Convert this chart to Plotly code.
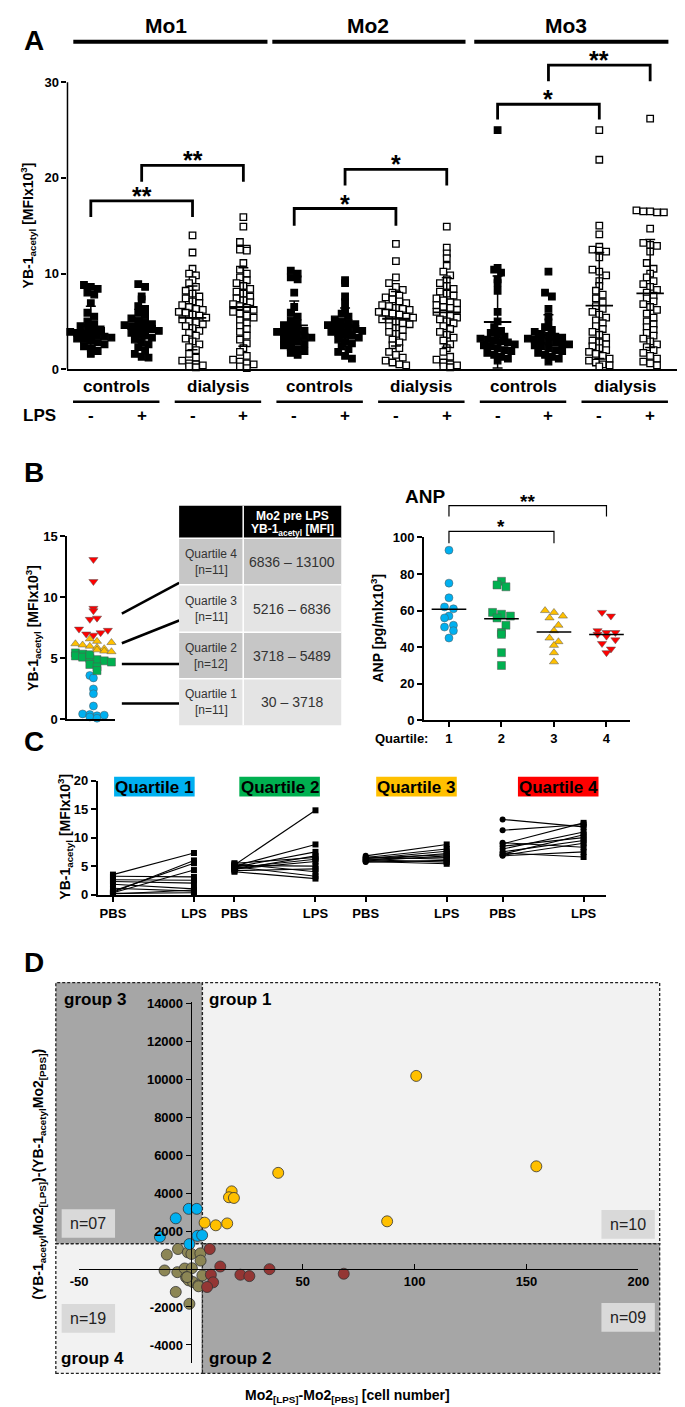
import plotly.graph_objects as go
import statistics as st

W, H = 685, 1407
FONT = "Liberation Sans, Arial, sans-serif"


def PX(x):
    return x / W


def PY(y):
    return 1 - y / H


# ---------------- Panel A data (YB-1acetyl, MFI x10^3) ----------------
m1_ctrl_pbs = [8.8, 8.6, 8.4, 8.0, 7.8, 6.9, 5.9, 5.5, 5.0, 4.7, 4.5, 4.3, 4.1, 4.0, 3.9, 3.8, 3.7, 3.6, 3.5, 3.4, 3.3, 3.2, 3.1, 3.0, 2.8, 2.6, 2.4, 2.2, 1.9, 1.6]
m1_ctrl_lps = [8.9, 8.6, 7.6, 7.3, 6.6, 6.3, 5.9, 5.6, 5.3, 5.1, 4.9, 4.7, 4.6, 4.5, 4.4, 4.3, 4.2, 4.0, 3.8, 3.6, 3.5, 3.3, 3.1, 2.9, 2.6, 2.3, 2.0, 1.6, 1.3, 1.2]
m1_dial_pbs = [14.0, 12.2, 10.5, 10.0, 9.8, 9.3, 9.0, 8.6, 8.2, 7.9, 7.6, 7.4, 7.1, 6.9, 6.7, 6.5, 6.3, 6.2, 6.0, 5.9, 5.7, 5.6, 5.4, 5.2, 5.0, 4.9, 4.7, 4.5, 4.3, 4.0, 3.8, 3.5, 3.2, 2.9, 2.6, 2.3, 2.0, 1.6, 1.2, 0.9, 0.6, 0.5, 0.4, 0.3, 0.2]
m1_dial_lps = [15.9, 14.9, 13.3, 12.6, 12.5, 12.4, 11.1, 10.4, 10.0, 9.6, 9.3, 9.0, 8.7, 8.4, 8.1, 7.9, 7.6, 7.4, 7.2, 7.0, 6.8, 6.6, 6.4, 6.2, 6.0, 5.8, 5.6, 5.4, 5.1, 4.8, 4.5, 4.2, 3.9, 3.5, 3.1, 2.7, 2.2, 1.8, 1.4, 1.0, 0.8, 0.6, 0.5, 0.3, 0.1]
m2_ctrl_pbs = [10.3, 10.0, 9.6, 9.4, 8.0, 6.5, 5.9, 5.5, 5.1, 4.8, 4.6, 4.4, 4.2, 4.0, 3.9, 3.8, 3.7, 3.5, 3.4, 3.3, 3.1, 3.0, 2.9, 2.7, 2.5, 2.3, 2.1, 1.9, 1.7, 1.5]
m2_ctrl_lps = [9.3, 9.0, 7.6, 7.0, 6.2, 5.8, 5.5, 5.2, 5.0, 4.8, 4.7, 4.6, 4.5, 4.4, 4.3, 4.2, 4.0, 3.9, 3.8, 3.6, 3.5, 3.3, 3.1, 2.9, 2.7, 2.4, 2.1, 1.8, 1.4, 1.1]
m2_dial_pbs = [13.1, 11.3, 9.6, 9.0, 8.6, 8.3, 8.0, 7.7, 7.5, 7.3, 7.1, 6.9, 6.7, 6.6, 6.4, 6.3, 6.2, 6.0, 5.9, 5.8, 5.7, 5.5, 5.4, 5.2, 5.1, 5.0, 4.8, 4.7, 4.5, 4.3, 4.1, 3.9, 3.7, 3.4, 3.1, 2.8, 2.5, 2.2, 1.8, 1.5, 1.2, 0.9, 0.7, 0.5, 0.4]
m2_dial_lps = [14.9, 12.7, 12.1, 11.6, 10.8, 10.2, 9.8, 9.4, 9.0, 8.7, 8.4, 8.1, 7.9, 7.7, 7.4, 7.2, 7.0, 6.9, 6.7, 6.5, 6.4, 6.2, 6.0, 5.8, 5.6, 5.4, 5.2, 5.0, 4.8, 4.5, 4.2, 3.9, 3.6, 3.3, 3.0, 2.6, 2.2, 1.8, 1.3, 1.0, 0.7, 0.5, 0.4, 0.3, 0.2]
m3_ctrl_pbs = [25.0, 10.6, 10.4, 10.1, 9.4, 9.0, 8.2, 6.0, 5.0, 4.4, 4.0, 3.8, 3.6, 3.4, 3.2, 3.1, 3.0, 2.9, 2.8, 2.6, 2.5, 2.4, 2.2, 2.0, 1.9, 1.7, 1.5, 1.3, 1.1, 0.9]
m3_ctrl_lps = [10.2, 8.0, 7.6, 6.3, 5.5, 4.9, 4.4, 4.1, 3.9, 3.7, 3.5, 3.4, 3.3, 3.2, 3.1, 3.0, 2.9, 2.8, 2.7, 2.6, 2.5, 2.4, 2.2, 2.0, 1.9, 1.7, 1.5, 1.3, 1.1, 0.8]
m3_dial_pbs = [25.0, 21.9, 15.0, 14.1, 12.8, 12.5, 12.4, 12.3, 11.7, 10.4, 10.2, 9.8, 9.2, 8.7, 8.2, 7.8, 7.4, 7.0, 6.6, 6.3, 6.0, 5.7, 5.4, 5.1, 4.8, 4.5, 4.2, 3.9, 3.6, 3.3, 3.0, 2.8, 2.6, 2.4, 2.2, 2.0, 1.8, 1.6, 1.4, 1.1, 0.9, 0.7, 0.5, 0.4, 0.3]
m3_dial_lps = [26.2, 16.6, 16.5, 16.5, 16.4, 16.4, 14.7, 13.2, 13.0, 12.9, 12.3, 11.1, 10.5, 10.0, 9.6, 9.2, 8.9, 8.6, 8.3, 8.0, 7.7, 7.4, 7.1, 6.8, 6.5, 6.2, 5.8, 5.4, 5.0, 4.7, 4.4, 4.1, 3.8, 3.5, 3.2, 2.9, 2.6, 2.3, 2.0, 1.7, 1.4, 1.1, 0.8, 0.6, 0.4]
A_groups = [m1_ctrl_pbs, m1_ctrl_lps, m1_dial_pbs, m1_dial_lps,
            m2_ctrl_pbs, m2_ctrl_lps, m2_dial_pbs, m2_dial_lps,
            m3_ctrl_pbs, m3_ctrl_lps, m3_dial_pbs, m3_dial_lps]
A_cohorts = ["controls", "dialysis", "controls", "dialysis", "controls", "dialysis"]
A_lps = ["-", "+"] * 6
A_monocytes = ["Mo1", "Mo2", "Mo3"]
# brackets: (group a, group b, top value, leg bottom value, stars)
A_sig = [(1, 3, 17.6, 15.9, "**"), (2, 4, 21.3, 19.6, "**"),
         (5, 7, 16.8, 15.0, "*"), (6, 8, 20.9, 19.2, "*"),
         (9, 11, 27.7, 26.1, "*"), (10, 12, 31.8, 30.1, "**")]

# ---------------- Panel B data ----------------
B_q1 = [3.6, 3.4, 2.5, 2.1, 1.1, 0.45, 0.4, 0.3, 0.2, 0.1, 0.35]
B_q2 = [5.45, 5.35, 5.2, 5.1, 5.0, 4.9, 4.8, 4.7, 4.5, 4.3, 4.0, 5.3]
B_q3 = [6.6, 6.4, 6.2, 6.1, 6.0, 5.9, 5.8, 5.7, 5.6, 5.55, 6.3]
B_q4 = [13.1, 11.3, 9.1, 8.9, 8.2, 7.4, 7.0, 6.9, 7.1, 7.3, 8.3]
table_quartiles = ["Quartile 4", "Quartile 3", "Quartile 2", "Quartile 1"]
table_n = ["[n=11]", "[n=11]", "[n=12]", "[n=11]"]
table_ranges = ["6836 \u2013 13100", "5216 \u2013 6836", "3718 \u2013 5489", "30 \u2013 3718"]

ANP_q1 = [93, 75, 67, 62, 61, 57, 56, 52, 51, 49, 45]
ANP_q2 = [76, 74, 73, 59, 58, 57, 56, 52, 48, 47, 37, 30]
ANP_q3 = [60, 59, 57, 56, 52, 49, 45, 43, 41, 37, 32]
ANP_q4 = [59, 57, 49, 48, 48, 47, 46, 44, 42, 39, 37]

# ---------------- Panel C data (paired PBS -> LPS) ----------------
C_q1_pbs = [3.5, 3.2, 2.6, 2.3, 1.8, 1.1, 0.6, 0.4, 0.3, 0.2, 0.1]
C_q1_lps = [7.3, 3.1, 2.5, 2.0, 1.0, 0.6, 5.5, 6.0, 4.3, 0.3, 0.8]
C_q2_pbs = [5.5, 5.4, 5.2, 5.1, 5.0, 4.9, 4.8, 4.7, 4.5, 4.4, 4.2, 4.0]
C_q2_lps = [6.5, 4.0, 14.8, 5.0, 8.8, 3.2, 7.5, 6.2, 5.8, 6.8, 4.5, 2.8]
C_q3_pbs = [6.8, 6.6, 6.5, 6.4, 6.3, 6.2, 6.1, 6.0, 5.9, 5.8, 5.7]
C_q3_lps = [8.8, 6.2, 8.0, 7.0, 7.6, 6.5, 5.7, 7.2, 6.8, 5.4, 6.0]
C_q4_pbs = [13.2, 11.3, 9.1, 8.9, 8.5, 8.0, 7.5, 7.3, 7.1, 6.9, 6.8]
C_q4_lps = [11.9, 12.3, 8.3, 12.6, 10.0, 11.0, 9.5, 6.6, 10.5, 9.0, 7.5]
C_colors = ["#00b0f0", "#00b050", "#ffc000", "#ff0000"]

# ---------------- Panel D data ----------------
D_g1_x = [100.7, 154.4, 39.0, 18.2, 17.0, 19.2, 87.7, 6.1, 11.1, 16.2]
D_g1_y = [10166, 5406, 5062, 4088, 3776, 3740, 2510, 2440, 2300, 2400]
D_g3_x = [-1.0, 2.6, -6.8, -13.9, 2.9, 5.0, -0.7]
D_g3_y = [3167, 3167, 2667, 1693, 1745, 1780, 1313]
D_g4_x = [-10.8, -5.8, -1.4, 0.2, 4.2, 4.3, -11.8, -6.1, -2.8, 0.4, -2.2, -1.0, 0.9, 3.3, 5.1, -6.8, -0.7, -1.7, 3.4]
D_g4_y = [755, 1052, 875, 792, 823, 443, -78, -167, 26, 42, -443, -599, -688, -859, -339, -1208, -1833, -427, -911]
D_g2_x = [8.4, 13.1, 35.1, 68.3, 22.1, 26.1, 8.9, 9.9, 7.2]
D_g2_y = [1052, 130, -10, -250, -302, -375, -302, -703, -948]
D_xticks = [-50, 50, 100, 150, 200]
D_yticks = [-4000, -2000, 2000, 4000, 6000, 8000, 10000, 12000, 14000]


def swarm(vals, center, bin_h, step):
    xs = [0.0] * len(vals)
    bins = {}
    for i, v in enumerate(vals):
        bins.setdefault(int(round(v / bin_h)), []).append(i)
    for idx in bins.values():
        n = len(idx)
        for j, i in enumerate(idx):
            xs[i] = center + (j - (n - 1) / 2) * step
    return xs


fig = go.Figure()
shapes = []
ann = []


def text(x, y, t, size=13, bold=True, color="black", xanchor="center", yanchor="middle",
         xref="paper", yref="paper", angle=0, yshift=0):
    if bold:
        t = "<b>" + t + "</b>"
    ann.append(dict(x=x, y=y, xref=xref, yref=yref, text=t, showarrow=False,
                    font=dict(family=FONT, size=size, color=color), xanchor=xanchor,
                    yanchor=yanchor, textangle=angle, yshift=yshift))


def pline(x0, y0, x1, y1, w=1.5, color="black", dash=None):
    shapes.append(dict(type="line", xref="paper", yref="paper", x0=PX(x0), y0=PY(y0),
                       x1=PX(x1), y1=PY(y1), line=dict(color=color, width=w, dash=dash)))


def prect(x0, y0, x1, y1, fill, lw=0, lc="black", dash=None, layer="below"):
    shapes.append(dict(type="rect", xref="paper", yref="paper", x0=PX(x0), y0=PY(y1),
                       x1=PX(x1), y1=PY(y0), fillcolor=fill, layer=layer,
                       line=dict(color=lc, width=lw, dash=dash)))


# ================= Panel A =================
for i, vals in enumerate(A_groups):
    xc = i + 1
    filled = (i % 4) < 2
    fig.add_trace(go.Scatter(
        x=swarm(vals, xc, 0.72, 0.135), y=vals, mode="markers", xaxis="x", yaxis="y",
        marker=dict(symbol="square", size=6.5, color="black" if filled else "white",
                    line=dict(color="black", width=1.3)),
        cliponaxis=False, showlegend=False, hoverinfo="skip"))
    m = st.mean(vals)
    sd = st.stdev(vals)
    fig.add_trace(go.Scatter(x=[xc - 0.27, xc + 0.27], y=[m, m], mode="lines", xaxis="x", yaxis="y",
                             line=dict(color="black", width=1.8), cliponaxis=False,
                             showlegend=False, hoverinfo="skip"))
    fig.add_trace(go.Scatter(x=[xc], y=[m], mode="markers", xaxis="x", yaxis="y",
                             marker=dict(size=1, color="rgba(0,0,0,0)"),
                             error_y=dict(type="data", array=[sd], color="black", thickness=1.5, width=5),
                             cliponaxis=False, showlegend=False, hoverinfo="skip"))

for a, b, top, leg, stars in A_sig:
    shapes.append(dict(type="path", xref="x", yref="y",
                       path=f"M {a},{leg} L {a},{top} L {b},{top} L {b},{leg}",
                       line=dict(color="black", width=2.8)))
    text((a + b) / 2, top, stars, size=25, xref="x", yref="y", yanchor="bottom", yshift=-11)

# y axis line 0..30
shapes.append(dict(type="line", xref="paper", yref="y", x0=PX(52), x1=PX(52), y0=0, y1=30,
                   line=dict(color="black", width=1.5)))
# top monocyte labels
for lbl, (x0, x1), cx in zip(A_monocytes, [(58, 258), (263, 462), (471, 671)], [153, 362, 565]):
    pline(x0, 27, x1, 27, w=4)
    text(PX(cx), PY(11), lbl, size=21)
# cohorts
for k, lbl in enumerate(A_cohorts):
    c = 2 * k + 1.5
    text(c, PY(375), lbl, size=17, xref="x")
    shapes.append(dict(type="line", xref="x", yref="paper", x0=c - 0.85, x1=c + 0.85,
                       y0=PY(391), y1=PY(391), line=dict(color="black", width=2.5)))
for k, s in enumerate(A_lps):
    text(k + 1, PY(405), s, size=17, xref="x")
text(PX(23), PY(405), "LPS", size=17)
text(PX(18), PY(26), "A", size=28)
text(PX(11), PY(213), "YB-1<sub>acetyl</sub> [MFIx10<sup>3</sup>]", size=14, angle=-90)

# ================= Panel B (left scatter) =================
B_sets = [(B_q1, "circle", "#00b0f0"), (B_q2, "square", "#00b050"),
          (B_q3, "triangle-up", "#ffc000"), (B_q4, "triangle-down", "#ff0000")]
allB = B_q1 + B_q2 + B_q3 + B_q4
allx = swarm(allB, 0, 0.55, 0.3)
pos = 0
for vals, sym, col in B_sets:
    n = len(vals)
    fig.add_trace(go.Scatter(x=allx[pos:pos + n], y=vals, mode="markers", xaxis="x2", yaxis="y2",
                             marker=dict(symbol=sym, size=8, color=col, line=dict(color="#555", width=0.5)),
                             cliponaxis=False, showlegend=False, hoverinfo="skip"))
    pos += n
text(PX(17), PY(462), "B", size=28)
text(PX(17), PY(620), "YB-1<sub>acetyl</sub> [MFIx10<sup>3</sup>]", size=14, angle=-90)
# connectors
for (x0, y0, x1, y1) in [(108, 605, 167, 574), (108, 635, 167, 612), (108, 656, 167, 656), (108, 696, 167, 696)]:
    pline(x0, y0, x1, y1, w=2.5)
# table
prect(167, 496, 334, 529, "black", layer="above")
pline(233, 496, 233, 529, w=1.5, color="white")
text(PX(283.5), PY(506), "Mo2 pre LPS", size=12, color="white")
text(PX(283.5), PY(521), "YB-1<sub>acetyl</sub> [MFI]", size=12, color="white")
rows = [(529, 576), (576, 624), (624, 671), (671, 718)]
fills = ["#c6c6c6", "#e4e4e4", "#c6c6c6", "#e4e4e4"]
for (y0, y1), f, q, nn, rg in zip(rows, fills, table_quartiles, table_n, table_ranges):
    prect(167, y0, 233, y1, f, layer="above")
    prect(233, y0, 334, y1, f, layer="above")
    pline(167, y0, 334, y0, w=1.5, color="white")
    pline(233, y0, 233, y1, w=1.5, color="white")
    yc = (y0 + y1) / 2
    text(PX(200), PY(yc - 8), q, size=12, bold=False, color="#333")
    text(PX(200), PY(yc + 8), nn, size=12, bold=False, color="#333")
    text(PX(283.5), PY(yc), rg, size=14, bold=False, color="#333")

# ================= Panel B (ANP) =================
ANP_sets = [(ANP_q1, "circle", "#00b0f0"), (ANP_q2, "square", "#00b050"),
            (ANP_q3, "triangle-up", "#ffc000"), (ANP_q4, "triangle-down", "#ff0000")]
for k, (vals, sym, col) in enumerate(ANP_sets):
    xc = k + 1
    fig.add_trace(go.Scatter(x=swarm(vals, xc, 4.5, 0.17), y=vals, mode="markers", xaxis="x3", yaxis="y3",
                             marker=dict(symbol=sym, size=8, color=col, line=dict(color="#555", width=0.5)),
                             cliponaxis=False, showlegend=False, hoverinfo="skip"))
    m = st.mean(vals)
    fig.add_trace(go.Scatter(x=[xc - 0.33, xc + 0.33], y=[m, m], mode="lines", xaxis="x3", yaxis="y3",
                             line=dict(color="black", width=1.5), showlegend=False, hoverinfo="skip"))
text(PX(420), PY(487), "ANP", size=19)
text(PX(371), PY(620), "ANP [pg/mlx10<sup>3</sup>]", size=14, angle=-90)
text(PX(425), PY(731), "Quartile:", size=13, xanchor="right")
for a, b, ytop, yleg, stars in [(1, 4, 496, 507, "**"), (1, 3, 522, 534, "*")]:
    shapes.append(dict(type="path", xref="x3", yref="paper",
                       path=f"M {a},{PY(yleg)} L {a},{PY(ytop)} L {b},{PY(ytop)} L {b},{PY(yleg)}",
                       line=dict(color="black", width=1.2)))
    text((a + b) / 2, PY(ytop), stars, size=19, xref="x3", yanchor="bottom", yshift=-8)

# ================= Panel C =================
C_pos = [0.0, 1.5, 3.12, 4.81]
C_pairs = [(C_q1_pbs, C_q1_lps), (C_q2_pbs, C_q2_lps), (C_q3_pbs, C_q3_lps), (C_q4_pbs, C_q4_lps)]
for k, (pb, lp) in enumerate(C_pairs):
    xs, ys, syms = [], [], []
    for a, b in zip(pb, lp):
        xs += [C_pos[k], C_pos[k] + 1, None]
        ys += [a, b, None]
        syms += ["circle" if k >= 2 else "square", "square", "square"]
    fig.add_trace(go.Scatter(x=xs, y=ys, mode="lines+markers", xaxis="x4", yaxis="y4",
                             line=dict(color="black", width=1.1),
                             marker=dict(symbol=syms, size=6, color="black"),
                             cliponaxis=False, showlegend=False, hoverinfo="skip"))
for k, (x0, x1) in enumerate([(100, 183), (229, 312), (370, 453), (516, 599)]):
    prect(x0, 770, x1, 790, C_colors[k], layer="above")
    text(PX((x0 + x1) / 2), PY(780.5), f"Quartile {k + 1}", size=17)
text(PX(17), PY(734), "C", size=28)
text(PX(50), PY(831), "YB-1<sub>acetyl</sub> [MFIx10<sup>3</sup>]", size=14, angle=-90)

# ================= Panel D =================
prect(40, 978, 191, 1242, "#a6a6a6", lw=1.3, lc="#222", dash="3px,2px")
prect(191, 978, 662, 1242, "#f2f2f2", lw=1.3, lc="#222", dash="3px,2px")
prect(40, 1242, 191, 1373, "#f2f2f2", lw=1.3, lc="#222", dash="3px,2px")
prect(191, 1242, 662, 1373, "#a6a6a6", lw=1.3, lc="#222", dash="3px,2px")
for (x0, y0, x1, y1, t) in [(46, 1207, 101, 1236, "n=07"), (46, 1303, 101, 1332, "n=19"),
                            (602, 1208, 657, 1237, "n=10"), (602, 1302, 657, 1331, "n=09")]:
    prect(x0, y0, x1, y1, "#d9d9d9")
    text(PX((x0 + x1) / 2), PY((y0 + y1) / 2), t, size=16, bold=False, color="#222")
text(PX(80), PY(995), "group 3", size=17)
text(PX(230), PY(995), "group 1", size=17)
text(PX(78), PY(1358), "group 4", size=17)
text(PX(230), PY(1358), "group 2", size=17)
text(PX(17), PY(958), "D", size=28)
text(PX(340), PY(1396), "Mo2<sub>[LPS]</sub>-Mo2<sub>[PBS]</sub> [cell number]", size=14)
text(PX(22), PY(1172), "(YB-1<sub>acetyl</sub>Mo2<sub>[LPS]</sub>)-(YB-1<sub>acetyl</sub>Mo2<sub>[PBS]</sub>)",
     size=14, angle=-90)
for xs_, ys_, col in [(D_g4_x, D_g4_y, "#8c8655"), (D_g2_x, D_g2_y, "#943634"),
                      (D_g3_x, D_g3_y, "#00b0f0"), (D_g1_x, D_g1_y, "#ffc000")]:
    fig.add_trace(go.Scatter(x=xs_, y=ys_, mode="markers", xaxis="x5", yaxis="y5",
                             marker=dict(symbol="circle", size=11, color=col, line=dict(color="#333", width=0.8)),
                             cliponaxis=False, showlegend=False, hoverinfo="skip"))

tickfont = dict(family=FONT, size=13, color="black", weight="bold")
common = dict(showgrid=False, zeroline=False, linecolor="black", tickcolor="black", tickfont=tickfont)

fig.update_layout(
    width=W, height=H, margin=dict(l=0, r=0, t=0, b=0),
    paper_bgcolor="white", plot_bgcolor="rgba(0,0,0,0)", showlegend=False,
    shapes=shapes, annotations=ann,
    xaxis=dict(domain=[PX(52), PX(681)], range=[0.541, 12.55], showline=True, linewidth=1.5,
               showticklabels=False, ticks="", anchor="y", **common),
    yaxis=dict(domain=[PY(358), PY(39)], range=[0, 33], showline=False, tickvals=[0, 10, 20, 30],
               ticks="outside", ticklen=5, tickwidth=1.5, anchor="x", **common),
    xaxis2=dict(domain=[PX(51.5), PX(101)], range=[-1.1, 0.9], showline=True, linewidth=1.5,
                showticklabels=False, ticks="", anchor="y2", **common),
    yaxis2=dict(domain=[PY(712), PY(527)], range=[0, 15], showline=True, linewidth=1.5,
                tickvals=[0, 5, 10, 15], ticks="outside", ticklen=5, tickwidth=1.5, anchor="x2", **common),
    xaxis3=dict(domain=[PX(419), PX(631)], range=[0.52, 4.44], showline=True, linewidth=1.5,
                tickvals=[1, 2, 3, 4], ticks="outside", ticklen=5, tickwidth=1.5, anchor="y3", **common),
    yaxis3=dict(domain=[PY(713), PY(528)], range=[0, 100], showline=True, linewidth=1.5,
                tickvals=[0, 20, 40, 60, 80, 100], ticks="outside", ticklen=5, tickwidth=1.5, anchor="x3", **common),
    xaxis4=dict(domain=[PX(83), PX(607)], range=[-0.19, 6.09], showline=True, linewidth=1.5,
                tickvals=[p + d for p in C_pos for d in (0, 1)], ticktext=["PBS", "LPS"] * 4,
                ticks="outside", ticklen=6, tickwidth=2, anchor="y4", **common),
    yaxis4=dict(domain=[PY(889), PY(774)], range=[0, 20], showline=True, linewidth=1.5,
                tickvals=[0, 5, 10, 15, 20], ticks="outside", ticklen=5, tickwidth=1.5, anchor="x4", **common),
    xaxis5=dict(domain=[PX(64), PX(640)], range=[-50, 200], showline=True, linewidth=1.2,
                tickvals=D_xticks, ticktext=[str(v) for v in D_xticks], ticks="inside", ticklen=5, tickwidth=1.2,
                anchor="free", position=PY(1267.5), **common),
    yaxis5=dict(domain=[PY(1363), PY(998)], range=[-4975, 14040], showline=True, linewidth=1.2,
                tickvals=D_yticks, ticktext=[str(v) for v in D_yticks],
                ticks="outside", ticklen=5, tickwidth=1.2, anchor="free", position=PX(179), **common),
)

fig.write_html("out.html")
